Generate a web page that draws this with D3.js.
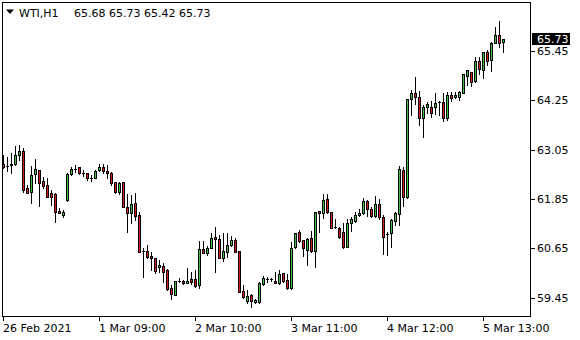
<!DOCTYPE html>
<html><head><meta charset="utf-8">
<script src="https://cdn.jsdelivr.net/npm/d3@7"></script>
<style>
html,body{margin:0;padding:0;background:#fff;}
svg{display:block;}
text{font-family:"DejaVu Sans",sans-serif;font-size:11px;fill:#000;}
</style></head>
<body>
<svg id="chart" width="580" height="340"></svg>
<script>
const symbolTitle = "WTI,H1";
const headerValues = ["65.68", "65.73", "65.42", "65.73"];
const lastPrice = 65.73;

const openPrices = [62.69,62.66,62.67,62.69,62.91,63.02,62.11,62.03,62.45,62.56,62.29,62.19,61.99,61.97,61.56,61.46,61.83,62.45,62.58,62.62,62.48,62.48,62.37,62.37,62.56,62.64,62.53,62.48,62.26,62.03,62.26,61.66,61.52,61.75,61.46,60.59,60.59,60.46,60.41,60.19,60.22,60.12,59.68,59.52,59.86,59.86,59.80,59.90,59.90,59.76,60.63,60.54,60.67,60.93,60.88,60.41,60.57,60.73,60.85,60.59,59.62,59.38,59.52,59.35,59.35,59.78,59.90,59.90,59.86,59.80,60.04,59.88,59.68,60.68,61.04,60.85,60.61,60.89,60.59,61.56,61.50,61.84,61.53,61.16,61.14,61.04,60.69,61.27,61.32,61.46,61.50,61.80,61.60,61.44,61.72,61.41,60.99,61.02,61.32,61.48,62.56,61.91,64.28,64.42,64.32,63.81,64.10,64.10,64.10,64.20,64.20,63.81,64.38,64.34,64.34,64.42,64.85,64.93,64.72,65.21,65.00,65.43,65.23,65.65,65.84,65.68];
const highPrices = [62.92,62.86,62.98,63.14,63.16,63.08,62.19,62.65,62.82,62.56,62.39,62.35,62.07,61.99,61.62,61.58,62.48,62.64,62.68,62.63,62.56,62.49,62.43,62.56,62.69,62.69,62.68,62.50,62.26,62.27,62.27,61.97,61.95,61.99,61.54,60.65,60.73,60.57,60.41,60.37,60.29,60.14,59.76,59.86,59.93,59.88,60.18,60.08,60.12,60.84,60.84,60.71,61.02,61.18,60.98,61.02,61.02,60.95,60.89,60.59,59.76,59.64,59.54,59.42,59.84,59.98,59.96,59.94,60.08,60.12,60.06,60.02,60.81,61.03,61.10,60.85,60.89,61.08,61.54,61.56,61.97,61.96,61.53,61.36,61.18,61.27,61.36,61.42,61.53,61.61,61.87,61.83,61.66,61.92,61.84,61.46,61.06,61.36,61.54,62.65,62.64,64.28,64.50,64.81,64.48,64.14,64.22,64.24,64.42,64.24,64.44,64.46,64.46,64.46,64.48,64.89,65.00,64.95,65.31,65.31,65.43,65.47,65.68,66.04,66.18,65.73];
const lowPrices = [62.60,62.54,62.49,62.68,62.80,62.03,61.99,61.76,62.23,61.68,62.13,61.91,61.70,61.30,61.50,61.41,61.81,62.43,62.50,62.46,62.41,62.31,62.30,62.35,62.53,62.48,62.35,62.19,61.99,61.96,61.66,61.06,61.26,61.34,60.55,59.95,60.41,60.12,60.06,60.08,59.84,59.64,59.41,59.52,59.83,59.78,59.80,59.78,59.72,59.68,60.53,60.49,60.65,60.07,60.41,60.34,60.45,60.71,60.55,59.58,59.44,59.33,59.22,59.33,59.33,59.76,59.84,59.86,59.80,59.78,59.84,59.66,59.66,60.65,60.81,60.46,60.25,60.57,60.20,61.04,61.38,61.50,61.14,61.14,60.91,60.65,60.68,61.07,61.30,61.44,61.49,61.44,61.42,61.42,61.36,60.51,60.49,60.68,61.22,61.22,61.68,61.87,63.89,64.15,63.65,63.35,63.93,63.84,63.92,63.89,63.75,63.77,64.24,64.30,64.26,64.42,64.62,64.60,64.70,64.89,64.80,65.11,64.97,65.64,65.55,65.42];
const closePrices = [62.64,62.66,62.70,62.92,63.02,62.07,62.00,62.43,62.57,62.23,62.17,61.91,61.91,61.54,61.52,61.54,62.46,62.57,62.58,62.48,62.48,62.35,62.37,62.53,62.64,62.53,62.48,62.25,62.03,62.23,61.66,61.50,61.73,61.44,60.55,60.59,60.45,60.41,60.11,60.25,60.08,59.66,59.54,59.86,59.86,59.80,59.86,59.84,59.74,60.63,60.54,60.67,60.89,60.88,60.42,60.59,60.73,60.85,60.57,59.58,59.47,59.50,59.38,59.39,59.81,59.92,59.90,59.90,59.80,60.03,59.86,59.68,60.65,61.03,60.84,60.65,60.87,60.59,61.53,61.50,61.83,61.53,61.14,61.16,60.93,60.69,61.26,61.36,61.46,61.50,61.80,61.60,61.44,61.72,61.41,60.93,60.99,61.34,61.50,62.58,61.89,64.28,64.42,64.32,63.81,64.08,64.16,63.93,64.19,64.20,63.81,64.38,64.31,64.38,64.45,64.89,64.99,64.70,65.21,65.01,65.43,65.21,65.65,65.84,65.65,65.73];

const priceTicks = [65.45, 64.25, 63.05, 61.85, 60.65, 59.45];
const timeTickIndex = [0, 24, 48, 72, 96, 120];
const timeTickLabels = ["26 Feb 2021", "1 Mar 09:00", "2 Mar 10:00", "3 Mar 11:00", "4 Mar 12:00", "5 Mar 13:00"];

const bullColor = "#3fc23f";
const bearColor = "#d81a1a";

const svg = d3.select("#chart");
const n = openPrices.length;
const candles = d3.range(n).map(i => ({i, o: openPrices[i], h: highPrices[i], l: lowPrices[i], c: closePrices[i]}));

const x = d3.scaleLinear().domain([0, n - 1]).range([3, 3 + 4 * (n - 1)]);
const y = d3.scaleLinear().domain([59.45, 65.45]).range([297.7, 51]);
const py = v => Math.round(y(v));

svg.append("rect").attr("width", 580).attr("height", 340).attr("fill", "#fff");

const g = svg.append("g").attr("shape-rendering", "crispEdges");

// wicks
g.selectAll("rect.wick").data(candles).join("rect")
  .attr("class", "wick")
  .attr("x", d => Math.round(x(d.i)))
  .attr("y", d => py(d.h))
  .attr("width", 1)
  .attr("height", d => Math.max(1, py(d.l) - py(d.h) + 1))
  .attr("fill", "#000");

// body outlines
g.selectAll("rect.body").data(candles).join("rect")
  .attr("class", "body")
  .attr("x", d => Math.round(x(d.i)) - 1)
  .attr("y", d => py(Math.max(d.o, d.c)))
  .attr("width", 3)
  .attr("height", d => Math.max(1, py(Math.min(d.o, d.c)) - py(Math.max(d.o, d.c)) + 1))
  .attr("fill", "#000");

// body fills
g.selectAll("rect.fill").data(candles.filter(d => py(Math.min(d.o, d.c)) - py(Math.max(d.o, d.c)) >= 2)).join("rect")
  .attr("class", "fill")
  .attr("x", d => Math.round(x(d.i)))
  .attr("y", d => py(Math.max(d.o, d.c)) + 1)
  .attr("width", 1)
  .attr("height", d => py(Math.min(d.o, d.c)) - py(Math.max(d.o, d.c)) - 1)
  .attr("fill", d => d.c >= d.o ? bullColor : bearColor);

// frame
svg.append("rect").attr("x", 2.5).attr("y", 2.5).attr("width", 528).attr("height", 314)
  .attr("fill", "none").attr("stroke", "#000").attr("shape-rendering", "crispEdges");

// price axis
const ya = svg.append("g");
priceTicks.forEach(v => {
  const yy = py(v);
  ya.append("line").attr("x1", 531).attr("x2", 535).attr("y1", yy + 0.5).attr("y2", yy + 0.5)
    .attr("stroke", "#000").attr("shape-rendering", "crispEdges");
  ya.append("text").attr("x", 537).attr("y", yy + 4).text(v.toFixed(2));
});

// current price label
const ly = y(lastPrice);
svg.append("rect").attr("x", 532).attr("y", Math.round(ly) - 6).attr("width", 38).attr("height", 12).attr("fill", "#000");
svg.append("text").attr("x", 537).attr("y", Math.round(ly) + 4).style("fill", "#fff").text(lastPrice.toFixed(2));

// time axis
const xa = svg.append("g");
timeTickIndex.forEach((idx, k) => {
  const xx = Math.round(x(idx));
  xa.append("line").attr("x1", xx + 0.5).attr("x2", xx + 0.5).attr("y1", 317).attr("y2", 321)
    .attr("stroke", "#000").attr("shape-rendering", "crispEdges");
  xa.append("text").attr("x", xx).attr("y", 332).text(timeTickLabels[k]);
});

// header
svg.append("path").attr("d", "M6,9.5 L14,9.5 L10,14 Z").attr("fill", "#000");
svg.append("text").attr("x", 19).attr("y", 17).text(symbolTitle);
svg.append("text").attr("x", 74).attr("y", 17).text(headerValues.join(" "));
</script>
</body></html>
